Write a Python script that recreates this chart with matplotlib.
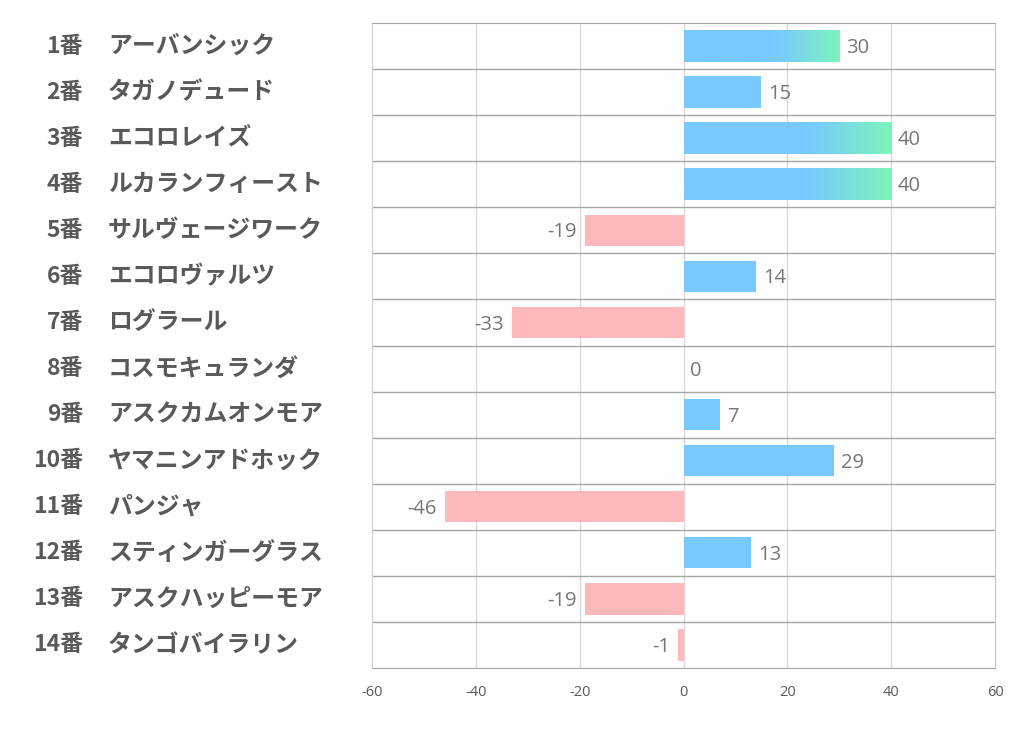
import numpy as np
import matplotlib
matplotlib.use("Agg")
from matplotlib import pyplot as plt
from matplotlib import transforms
from matplotlib.colors import to_rgb

plt.rcParams['font.family'] = ['Noto Sans CJK JP', 'DejaVu Sans']

## データ ##
numbers = ["1番", "2番", "3番", "4番", "5番", "6番", "7番", "8番", "9番",
           "10番", "11番", "12番", "13番", "14番"]
names = ["アーバンシック", "タガノデュード", "エコロレイズ", "ルカランフィースト",
         "サルヴェージワーク", "エコロヴァルツ", "ログラール", "コスモキュランダ",
         "アスクカムオンモア", "ヤマニンアドホック", "パンジャ", "スティンガーグラス",
         "アスクハッピーモア", "タンゴバイラリン"]
values = [30, 15, 40, 40, -19, 14, -33, 0, 7, 29, -46, 13, -19, -1]
xticks = [-60, -40, -20, 0, 20, 40, 60]

blue = "#78C9FF"
green = "#7DF5BA"
pink = "#FFB8BB"
bar_h = 0.68

fig = plt.figure(figsize=(10.22, 7.30), dpi=100)
ax = fig.add_axes([372/1022, 1 - 668/730, 623/1022, 645/730])

ypos = np.arange(len(values))
for y, v in zip(ypos, values):
    if v < 0:
        ax.barh(y, v, height=bar_h, color=pink, zorder=2)
    elif v >= 30:
        # グラデーション (60%から緑へ)
        n = 200
        t = np.linspace(0, 1, n)
        f = np.clip((t - 0.6) / 0.4, 0, 1)
        c1 = np.array(to_rgb(blue))
        c2 = np.array(to_rgb(green))
        img = (c1[None, :] * (1 - f[:, None]) + c2[None, :] * f[:, None])[None, :, :]
        ax.imshow(img, extent=(0, v, y + bar_h/2, y - bar_h/2), aspect='auto',
                  zorder=2, interpolation='bilinear')
    elif v > 0:
        ax.barh(y, v, height=bar_h, color=blue, zorder=2)

    if v < 0:
        ax.annotate(str(v), (v, y), xytext=(-6, -1.5), textcoords='offset points',
                    ha='right', va='center', fontsize=14.5, color='#767676',
                    family=['Open Sans', 'DejaVu Sans'])
    else:
        ax.annotate(str(v), (v, y), xytext=(5, -1.5), textcoords='offset points',
                    ha='left', va='center', fontsize=14.5, color='#767676',
                    family=['Open Sans', 'DejaVu Sans'])

ax.set_xlim(-60, 60)
ax.set_ylim(len(values) - 0.5, -0.5)
ax.set_xticks(xticks)
ax.set_xticklabels([str(x) for x in xticks], fontsize=10.5, color='#595959',
                   family=['Open Sans', 'DejaVu Sans'])
ax.set_yticks([])
ax.tick_params(axis='x', length=0, pad=12)

for x in xticks[1:-1]:
    ax.axvline(x, color='#d9d9d9', lw=1, zorder=1)
for i in range(1, len(values)):
    ax.axhline(i - 0.5, color='#a6a6a6', lw=1, zorder=1)

ax.spines['top'].set_color('#a6a6a6')
ax.spines['bottom'].set_color('#a6a6a6')
ax.spines['left'].set_color('#d0d0d0')
ax.spines['right'].set_color('#c8c8c8')

trans = transforms.blended_transform_factory(fig.transFigure, ax.transData)
for y, num, name in zip(ypos, numbers, names):
    ax.text(83/1022, y, num, transform=trans, ha='right', va='center',
            fontsize=16.5, fontweight='bold', color='#595959')
    ax.text(108/1022, y, name, transform=trans, ha='left', va='center',
            fontsize=17.2, fontweight='bold', color='#595959')

fig.savefig('out.png', dpi=100)
